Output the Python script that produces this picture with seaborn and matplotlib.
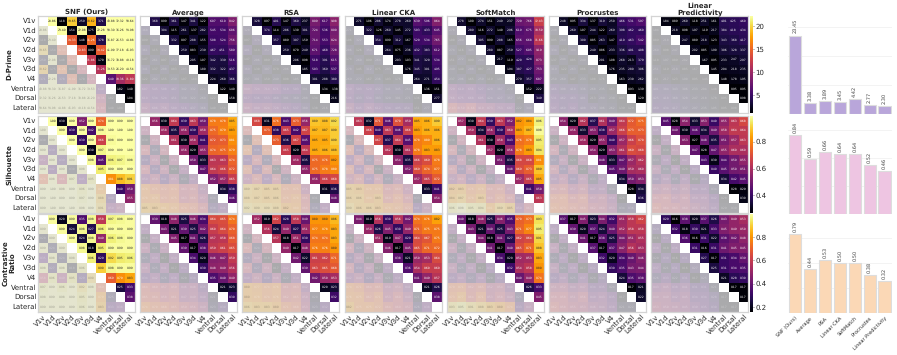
import numpy as np
import pandas as pd
import matplotlib
matplotlib.use('Agg')
import matplotlib.pyplot as plt
from matplotlib.colors import ListedColormap
import seaborn as sns

# --- values (upper triangle, row by row) ---
areas = ['V1v', 'V1d', 'V2v', 'V2d', 'V3v', 'V3d', 'V4', 'Ventral', 'Dorsal', 'Lateral']
methods = ['SNF (Ours)', 'Average', 'RSA', 'Linear CKA', 'SoftMatch', 'Procrustes', 'Linear Predictivity']
titles = ['SNF (Ours)', 'Average', 'RSA', 'Linear CKA', 'SoftMatch', 'Procrustes', 'Linear\nPredictivity']
row_names = ['D-Prime', 'Silhouette', 'Contrastive\nRatio']

dp_snf = [28.86, 1.18, 19.65, 2.59, 18.62, 3.71, 43.88, 32.32, 50.64,
          23.40, 1.54, 22.08, 1.75, 22.28, 50.30, 36.26, 54.98,
          14.33, 1.48, 15.26, 3.78, 36.87, 26.53, 44.88,
          13.83, 0.99, 14.42, 41.99, 37.18, 45.93,
          11.86, 1.70, 36.72, 33.88, 40.18,
          11.26, 39.53, 26.20, 44.54,
          6.40, 10.36, 11.80,
          1.82, 1.40,
          1.04]
dp_avg = [3.68, 0.99, 3.61, 1.47, 3.41, 1.22, 6.07, 6.10, 8.42,
          3.04, 1.15, 2.61, 1.37, 2.82, 5.45, 5.34, 6.86,
          3.32, 0.97, 2.88, 1.55, 5.08, 5.24, 7.56,
          2.59, 0.83, 2.39, 4.67, 4.51, 5.89,
          2.05, 1.07, 3.42, 3.39, 5.16,
          1.80, 3.32, 3.22, 4.37,
          2.24, 2.60, 3.66,
          1.22, 1.40,
          1.58]
dp_rsa = [3.28, 0.97, 4.01, 1.47, 3.60, 2.37, 8.09, 6.17, 9.08,
          3.74, 1.14, 2.86, 1.30, 3.01, 7.24, 5.36, 8.00,
          3.57, 0.89, 3.07, 1.59, 7.14, 5.53, 8.24,
          2.59, 0.70, 2.49, 6.71, 4.68, 7.28,
          2.06, 0.98, 5.18, 3.91, 6.15,
          1.85, 5.03, 3.69, 5.37,
          3.01, 2.88, 3.80,
          1.34, 1.38,
          2.16]
dp_cka = [2.71, 1.06, 2.86, 1.74, 2.78, 2.69, 6.39, 5.96, 8.64,
          3.22, 1.26, 2.60, 1.45, 2.72, 5.03, 4.33, 6.45,
          3.54, 0.99, 3.12, 1.67, 5.20, 5.34, 7.65,
          2.64, 0.75, 2.36, 4.32, 3.83, 6.12,
          2.03, 1.03, 3.41, 3.20, 5.34,
          1.76, 3.45, 3.01, 4.95,
          2.64, 2.71, 4.54,
          1.36, 1.51,
          2.77]
dp_soft = [2.78, 1.00, 2.74, 1.51, 2.49, 2.37, 7.29, 7.66, 12.43,
           2.89, 1.16, 2.72, 1.40, 2.96, 6.19, 6.75, 10.59,
           3.05, 0.99, 2.88, 1.65, 6.56, 6.68, 11.66,
           2.80, 0.87, 2.59, 5.27, 6.05, 9.19,
           2.17, 1.19, 4.20, 4.24, 8.73,
           1.94, 3.87, 4.27, 7.53,
           2.79, 3.57, 6.87,
           1.52, 2.22,
           3.49]
dp_proc = [2.48, 0.95, 3.34, 1.37, 3.19, 2.50, 4.66, 5.31, 5.97,
           2.69, 1.07, 2.44, 1.22, 2.69, 3.98, 4.62, 4.60,
           3.00, 0.85, 2.63, 1.47, 4.10, 4.63, 5.42,
           2.49, 0.86, 2.33, 3.36, 4.01, 4.08,
           2.01, 1.08, 2.68, 2.13, 3.79,
           1.76, 2.35, 2.80, 3.06,
           1.63, 2.30, 2.62,
           0.93, 1.39,
           1.29]
dp_lin = [1.84, 0.89, 2.60, 1.18, 2.51, 1.61, 4.01, 4.25, 4.60,
          2.18, 0.98, 1.97, 1.19, 2.17, 3.84, 4.18, 4.34,
          2.47, 0.89, 2.18, 1.23, 3.43, 3.68, 4.17,
          2.02, 0.85, 1.90, 3.06, 3.28, 3.37,
          1.67, 0.95, 2.33, 2.47, 2.97,
          1.45, 2.04, 2.18, 2.35,
          1.48, 1.78, 1.95,
          0.95, 0.95,
          0.98]

sil_snf = [1.00, 0.30, 0.99, 0.52, 0.99, 0.74, 0.99, 0.99, 0.99,
           0.99, 0.39, 0.99, 0.42, 0.98, 1.00, 1.00, 1.00,
           0.99, 0.39, 0.99, 0.66, 0.98, 0.99, 0.99,
           0.99, 0.30, 0.97, 0.99, 0.99, 1.00,
           0.98, 0.45, 0.96, 0.97, 0.98,
           0.95, 0.99, 0.99, 0.99,
           0.81, 0.88, 0.91,
           0.40, 0.50,
           0.55]
sil_avg = [0.56, 0.30, 0.64, 0.39, 0.63, 0.50, 0.78, 0.78, 0.85,
           0.58, 0.35, 0.56, 0.39, 0.58, 0.75, 0.79, 0.83,
           0.61, 0.30, 0.58, 0.41, 0.72, 0.73, 0.81,
           0.56, 0.29, 0.55, 0.74, 0.75, 0.79,
           0.50, 0.33, 0.63, 0.63, 0.74,
           0.47, 0.64, 0.66, 0.72,
           0.52, 0.57, 0.65,
           0.34, 0.38,
           0.46]
sil_rsa = [0.68, 0.31, 0.76, 0.43, 0.73, 0.56, 0.89, 0.88, 0.92,
           0.73, 0.38, 0.65, 0.42, 0.67, 0.87, 0.87, 0.90,
           0.73, 0.36, 0.67, 0.45, 0.85, 0.85, 0.90,
           0.65, 0.29, 0.64, 0.85, 0.86, 0.88,
           0.58, 0.35, 0.75, 0.76, 0.82,
           0.55, 0.75, 0.78, 0.80,
           0.56, 0.66, 0.68,
           0.31, 0.36,
           0.48]
sil_cka = [0.63, 0.32, 0.71, 0.46, 0.70, 0.59, 0.85, 0.86, 0.90,
           0.66, 0.40, 0.63, 0.46, 0.66, 0.83, 0.86, 0.86,
           0.67, 0.37, 0.64, 0.45, 0.78, 0.80, 0.86,
           0.62, 0.30, 0.61, 0.78, 0.83, 0.83,
           0.54, 0.35, 0.66, 0.69, 0.78,
           0.52, 0.69, 0.74, 0.77,
           0.57, 0.65, 0.72,
           0.33, 0.41,
           0.54]
sil_soft = [0.57, 0.30, 0.64, 0.39, 0.63, 0.52, 0.82, 0.84, 0.96,
            0.59, 0.34, 0.56, 0.39, 0.60, 0.83, 0.87, 0.98,
            0.61, 0.30, 0.58, 0.43, 0.76, 0.78, 0.95,
            0.57, 0.29, 0.56, 0.78, 0.83, 0.94,
            0.51, 0.35, 0.68, 0.68, 0.81,
            0.48, 0.69, 0.73, 0.89,
            0.57, 0.65, 0.85,
            0.41, 0.50,
            0.63]
sil_proc = [0.54, 0.29, 0.62, 0.37, 0.61, 0.49, 0.64, 0.72, 0.75,
            0.56, 0.33, 0.53, 0.38, 0.57, 0.66, 0.73, 0.73,
            0.58, 0.29, 0.55, 0.40, 0.57, 0.66, 0.70,
            0.54, 0.29, 0.53, 0.61, 0.69, 0.68,
            0.48, 0.33, 0.47, 0.57, 0.62,
            0.45, 0.49, 0.59, 0.60,
            0.34, 0.50, 0.53,
            0.28, 0.34,
            0.36]
sil_lin = [0.45, 0.28, 0.54, 0.33, 0.53, 0.40, 0.55, 0.63, 0.68,
           0.49, 0.30, 0.46, 0.34, 0.49, 0.58, 0.64, 0.64,
           0.53, 0.27, 0.48, 0.35, 0.51, 0.57, 0.63,
           0.47, 0.28, 0.47, 0.55, 0.60, 0.60,
           0.43, 0.30, 0.44, 0.50, 0.55,
           0.40, 0.45, 0.50, 0.51,
           0.34, 0.42, 0.45,
           0.28, 0.29,
           0.30]

con_snf = [0.99, 0.20, 0.99, 0.35, 0.98, 0.58, 0.97, 0.98, 0.99,
           0.99, 0.24, 0.98, 0.27, 0.96, 0.99, 0.99, 0.99,
           0.99, 0.24, 0.98, 0.49, 0.96, 0.98, 0.99,
           0.98, 0.18, 0.95, 0.99, 0.99, 0.99,
           0.96, 0.29, 0.92, 0.95, 0.96,
           0.90, 0.98, 0.99, 0.99,
           0.69, 0.79, 0.83,
           0.25, 0.33,
           0.38]
con_avg = [0.39, 0.18, 0.48, 0.25, 0.46, 0.34, 0.64, 0.65, 0.74,
           0.43, 0.21, 0.39, 0.25, 0.42, 0.60, 0.64, 0.70,
           0.45, 0.17, 0.41, 0.26, 0.57, 0.58, 0.68,
           0.39, 0.17, 0.38, 0.59, 0.61, 0.65,
           0.34, 0.20, 0.46, 0.47, 0.59,
           0.30, 0.48, 0.49, 0.56,
           0.35, 0.40, 0.49,
           0.21, 0.23,
           0.30]
con_rsa = [0.52, 0.19, 0.62, 0.28, 0.58, 0.40, 0.80, 0.80, 0.86,
           0.56, 0.24, 0.49, 0.27, 0.51, 0.77, 0.78, 0.83,
           0.57, 0.18, 0.51, 0.30, 0.74, 0.74, 0.83,
           0.49, 0.17, 0.48, 0.76, 0.76, 0.80,
           0.42, 0.22, 0.61, 0.62, 0.71,
           0.39, 0.63, 0.65, 0.68,
           0.42, 0.50, 0.53,
           0.20, 0.23,
           0.32]
con_cka = [0.44, 0.19, 0.56, 0.30, 0.56, 0.42, 0.74, 0.76, 0.82,
           0.50, 0.26, 0.45, 0.30, 0.49, 0.71, 0.75, 0.75,
           0.51, 0.19, 0.47, 0.29, 0.64, 0.67, 0.75,
           0.46, 0.17, 0.45, 0.65, 0.71, 0.72,
           0.38, 0.21, 0.50, 0.53, 0.64,
           0.36, 0.54, 0.60, 0.60,
           0.41, 0.49, 0.57,
           0.21, 0.26,
           0.38]
con_soft = [0.40, 0.18, 0.48, 0.25, 0.46, 0.35, 0.70, 0.73, 0.93,
            0.43, 0.21, 0.40, 0.25, 0.43, 0.71, 0.77, 0.95,
            0.44, 0.18, 0.41, 0.27, 0.62, 0.64, 0.91,
            0.41, 0.17, 0.40, 0.65, 0.71, 0.88,
            0.34, 0.20, 0.52, 0.53, 0.83,
            0.32, 0.54, 0.58, 0.80,
            0.40, 0.49, 0.74,
            0.26, 0.33,
            0.45]
con_proc = [0.37, 0.17, 0.45, 0.23, 0.44, 0.32, 0.51, 0.58, 0.62,
            0.39, 0.20, 0.37, 0.24, 0.40, 0.52, 0.58, 0.58,
            0.41, 0.17, 0.38, 0.25, 0.44, 0.51, 0.55,
            0.37, 0.17, 0.37, 0.47, 0.56, 0.53,
            0.32, 0.20, 0.34, 0.40, 0.46,
            0.30, 0.35, 0.43, 0.44,
            0.24, 0.35, 0.38,
            0.17, 0.21,
            0.22]
con_lin = [0.29, 0.16, 0.38, 0.20, 0.37, 0.26, 0.43, 0.49, 0.53,
           0.32, 0.18, 0.30, 0.21, 0.33, 0.45, 0.49, 0.50,
           0.36, 0.16, 0.31, 0.22, 0.38, 0.42, 0.48,
           0.31, 0.16, 0.31, 0.41, 0.45, 0.45,
           0.27, 0.17, 0.31, 0.34, 0.39,
           0.25, 0.31, 0.34, 0.35,
           0.21, 0.28, 0.30,
           0.17, 0.17,
           0.17]

bar_dprime = [23.45, 3.38, 3.89, 3.45, 4.42, 2.77, 2.30]
bar_sil = [0.84, 0.59, 0.66, 0.64, 0.64, 0.52, 0.46]
bar_con = [0.79, 0.44, 0.53, 0.50, 0.50, 0.38, 0.32]

heat_rows = [
    [dp_snf, dp_avg, dp_rsa, dp_cka, dp_soft, dp_proc, dp_lin],
    [sil_snf, sil_avg, sil_rsa, sil_cka, sil_soft, sil_proc, sil_lin],
    [con_snf, con_avg, con_rsa, con_cka, con_soft, con_proc, con_lin],
]
bar_rows = [bar_dprime, bar_sil, bar_con]

# colour scale, bar look and bar axes per row
vmins = [1.1, 0.27, 0.157]
vmaxs = [22.2, 0.99, 0.997]
cbar_ticks = [[5, 10, 15, 20], [0.4, 0.6, 0.8], [0.2, 0.4, 0.6, 0.8]]
cbar_fmt = ['%d', '%.1f', '%.1f']
bar_cols = ['#b9a6da', '#eec5e2', '#fbd8b6']
bar_tops = [29.3, 1.045, 0.993]
bar_grids = [[0, 8.7, 17.4, 26.1], [0, 0.3, 0.6, 0.9], [0, 0.25, 0.5, 0.75]]

# --- layout in pixels ---
W, H = 897, 355
row_tops = [16, 116, 214]
row_bots = [113, 213, 312]
col_left = 38
col_pitch = 102.2
col_w = 97

sns.set_style('white')
plt.rcParams['font.family'] = ['DejaVu Sans']
plt.rcParams['text.hinting'] = 'no_hinting'
plt.rcParams['text.hinting_factor'] = 1


def px_axes(fig, x0, y0, x1, y1):
    return fig.add_axes([x0 / W, 1 - y1 / H, (x1 - x0) / W, (y1 - y0) / H])


def to_matrix(vals):
    m = np.zeros((10, 10))
    iu = np.triu_indices(10, 1)
    m[iu] = vals
    m = m + m.T
    return pd.DataFrame(m, index=areas, columns=areas)


up_mask = np.tril(np.ones((10, 10), dtype=bool))
low_mask = np.triu(np.ones((10, 10), dtype=bool))
diag_mask = ~np.eye(10, dtype=bool)

fig = plt.figure(figsize=(W / 100, H / 100), dpi=100)

for r in range(3):
    for c in range(7):
        ax = px_axes(fig, col_left + c * col_pitch, row_tops[r],
                     col_left + c * col_pitch + col_w, row_bots[r])
        df = to_matrix(heat_rows[r][c])
        ax.set_facecolor('#dedede')

        # white diagonal
        sns.heatmap(np.eye(10), mask=diag_mask, cmap=ListedColormap(['white']),
                    cbar=False, ax=ax)
        # faded lower half
        sns.heatmap(df, mask=low_mask, cmap='inferno', vmin=vmins[r], vmax=vmaxs[r],
                    alpha=0.23, annot=True, fmt='.2f', cbar=False, ax=ax,
                    annot_kws={'fontsize': 2.2, 'alpha': 0.35})
        # solid upper half, colorbar only at the end of the row
        if c == 6:
            cax = px_axes(fig, col_left + c * col_pitch + col_w + 1.5, row_tops[r],
                          col_left + c * col_pitch + col_w + 4.5, row_bots[r])
            sns.heatmap(df, mask=up_mask, cmap='inferno', vmin=vmins[r], vmax=vmaxs[r],
                        annot=True, fmt='.2f', ax=ax, cbar_ax=cax,
                        annot_kws={'fontsize': 2.2})
            cax.set_yticks(cbar_ticks[r])
            cax.yaxis.set_major_formatter(plt.FormatStrFormatter(cbar_fmt[r]))
            cax.tick_params(labelsize=5, length=1, width=0.4, pad=1)
        else:
            sns.heatmap(df, mask=up_mask, cmap='inferno', vmin=vmins[r], vmax=vmaxs[r],
                        annot=True, fmt='.2f', cbar=False, ax=ax,
                        annot_kws={'fontsize': 2.2})

        for s in ax.spines.values():
            s.set_visible(True)
            s.set_color('#d4d4d4')
            s.set_linewidth(0.9)
        ax.set_xlabel('')
        ax.set_ylabel('')
        ax.tick_params(length=0, pad=1)

        if c == 0:
            ax.set_yticks(np.arange(10) + 0.5)
            ax.set_yticklabels(areas, rotation=0, fontsize=4.8)
        else:
            ax.set_yticks([])
        if r == 2:
            ax.set_xticks(np.arange(10) + 0.5)
            ax.set_xticklabels(areas, rotation=45, ha='right', rotation_mode='anchor',
                               fontsize=5.2)
        else:
            ax.set_xticks([])
        if r == 0:
            ax.set_title(titles[c], fontsize=5.2, fontweight='bold', pad=1, linespacing=1.0)

    # row name
    fig.text(9 / W, 1 - (row_tops[r] + row_bots[r]) / 2 / H, row_names[r], rotation=90,
             ha='center', va='center', fontsize=5, fontweight='bold', linespacing=1.0)

    # bars on the right
    bx = px_axes(fig, 787.7, row_tops[r], 892, row_bots[r] + 1)
    bar_df = pd.DataFrame({'method': methods, 'val': bar_rows[r]})
    sns.barplot(data=bar_df, x='method', y='val', color=bar_cols[r], edgecolor='#dddddd',
                linewidth=0.8, width=0.82, saturation=1, ax=bx)
    bx.bar_label(bx.containers[0], fmt='%.2f', rotation=90, fontsize=3.5, padding=1.5,
                 color='#444444')
    bx.set_ylim(0, bar_tops[r])
    bx.set_yticks(bar_grids[r])
    bx.set_yticklabels([])
    bx.grid(axis='y', color='#f3f3f3', linewidth=0.7)
    bx.set_axisbelow(True)
    sns.despine(ax=bx, left=True, bottom=True)
    bx.set_xlabel('')
    bx.set_ylabel('')
    bx.tick_params(length=0, pad=2)
    if r == 2:
        bx.set_xticks(range(7))
        bx.set_xticklabels(methods, rotation=45, ha='right', rotation_mode='anchor', fontsize=3.9)
    else:
        bx.set_xticks([])

plt.savefig('out.png', dpi=100)
